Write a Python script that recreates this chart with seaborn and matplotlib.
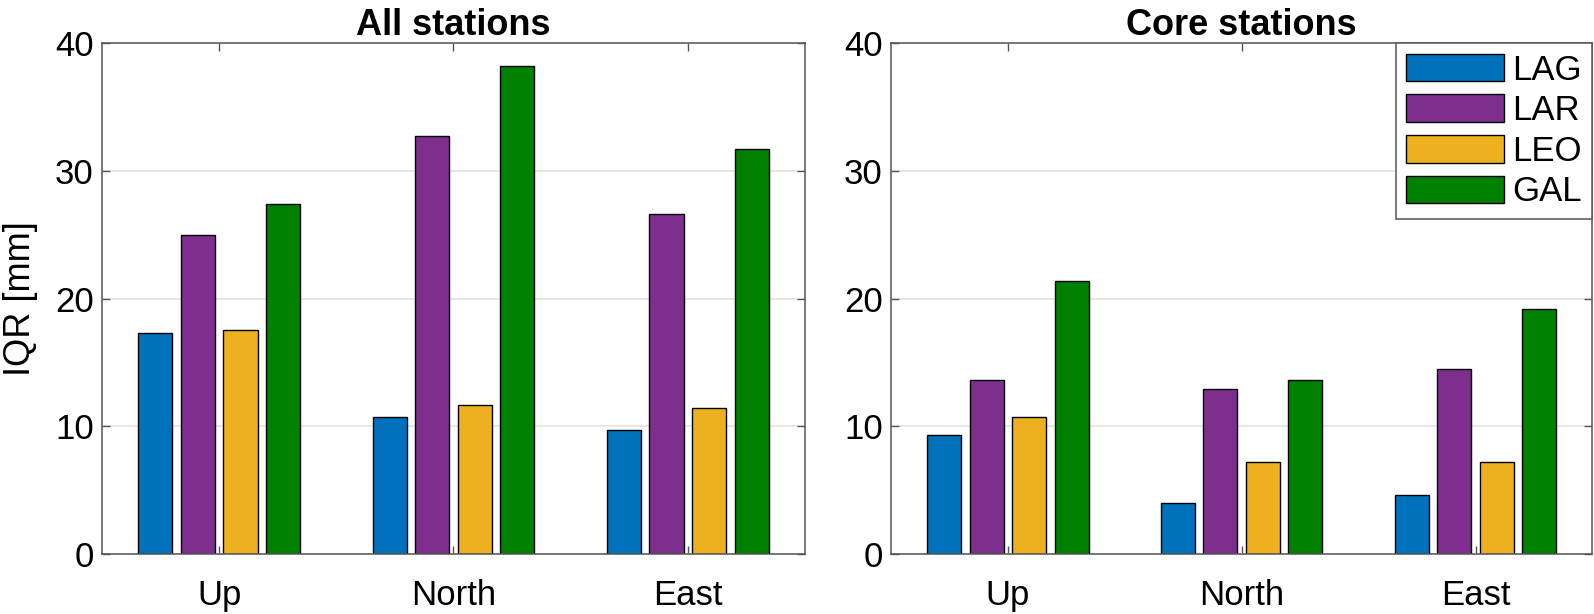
import pandas as pd
import matplotlib
matplotlib.use('Agg')
import matplotlib.pyplot as plt
import seaborn as sns

# Values (IQR in mm)
directions = ['Up', 'North', 'East']
systems = ['LAG', 'LAR', 'LEO', 'GAL']
colors = ['#0072BD', '#7E2F8E', '#EDB120', '#008000']

all_lag = [17.3, 10.7, 9.7]
all_lar = [25.0, 32.7, 26.65]
all_leo = [17.55, 11.7, 11.4]
all_gal = [27.4, 38.2, 31.7]

core_lag = [9.35, 4.0, 4.65]
core_lar = [13.65, 12.9, 14.5]
core_leo = [10.7, 7.2, 7.2]
core_gal = [21.4, 13.65, 19.2]

panel_titles = ['All stations', 'Core stations']
y_ticks = [0, 10, 20, 30, 40]


def to_long(series_list):
    """Build a long DataFrame from the per-system lists"""
    rows = []
    for name, vals in zip(systems, series_list):
        for d, v in zip(directions, vals):
            rows.append({'direction': d, 'system': name, 'iqr': v})
    return pd.DataFrame(rows)


sns.set_style('white')
plt.rcParams['font.family'] = ['Liberation Sans', 'DejaVu Sans']
plt.rcParams['text.color'] = 'black'
plt.rcParams['axes.labelcolor'] = 'black'
plt.rcParams['xtick.color'] = 'black'
plt.rcParams['ytick.color'] = 'black'

fig = plt.figure(figsize=(15.94, 6.14), dpi=100)
ax1 = fig.add_axes([0.064, 0.0977, 0.441, 0.832])
ax2 = fig.add_axes([0.559, 0.0977, 0.440, 0.832])

datasets = [to_long([all_lag, all_lar, all_leo, all_gal]),
            to_long([core_lag, core_lar, core_leo, core_gal])]

for ax, df, title in zip([ax1, ax2], datasets, panel_titles):
    sns.barplot(data=df, x='direction', y='iqr', hue='system', order=directions,
                hue_order=systems, palette=colors, width=0.727, gap=0.2,
                edgecolor='black', linewidth=1.0, saturation=1, ax=ax, legend=(ax is ax2))
    ax.set_xlim(-0.5, 2.5)
    ax.set_ylim(0, 40)
    ax.set_yticks(y_ticks)
    ax.set_xlabel('')
    ax.set_ylabel('')
    ax.set_title(title, fontsize=26, fontweight='bold', pad=6, color='black')
    ax.yaxis.grid(True, color='#e3e3e3', linewidth=1.2)
    ax.set_axisbelow(True)
    for s in ax.spines.values():
        s.set_visible(True)
        s.set_color('#555555')
        s.set_linewidth(1.1)
    ax.tick_params(axis='both', which='major', direction='in', length=6, width=1,
                   color='#555555', labelcolor='black', labelsize=25,
                   top=True, right=True, bottom=True, left=True)
    ax.tick_params(axis='x', pad=18)
    ax.tick_params(axis='y', pad=6)

ax1.set_ylabel('IQR [mm]', fontsize=26, labelpad=12)

handles, labels = ax2.get_legend_handles_labels()
ax2.legend(handles, labels, loc='upper right', fontsize=25, frameon=True, fancybox=False,
           edgecolor='#555555', framealpha=1, borderaxespad=0, handlelength=2.8,
           handleheight=0.85, handletextpad=0.25, labelspacing=0.22, borderpad=0.3)
ax2.get_legend().get_frame().set_linewidth(1.1)

fig.savefig('out.png', dpi=100)
